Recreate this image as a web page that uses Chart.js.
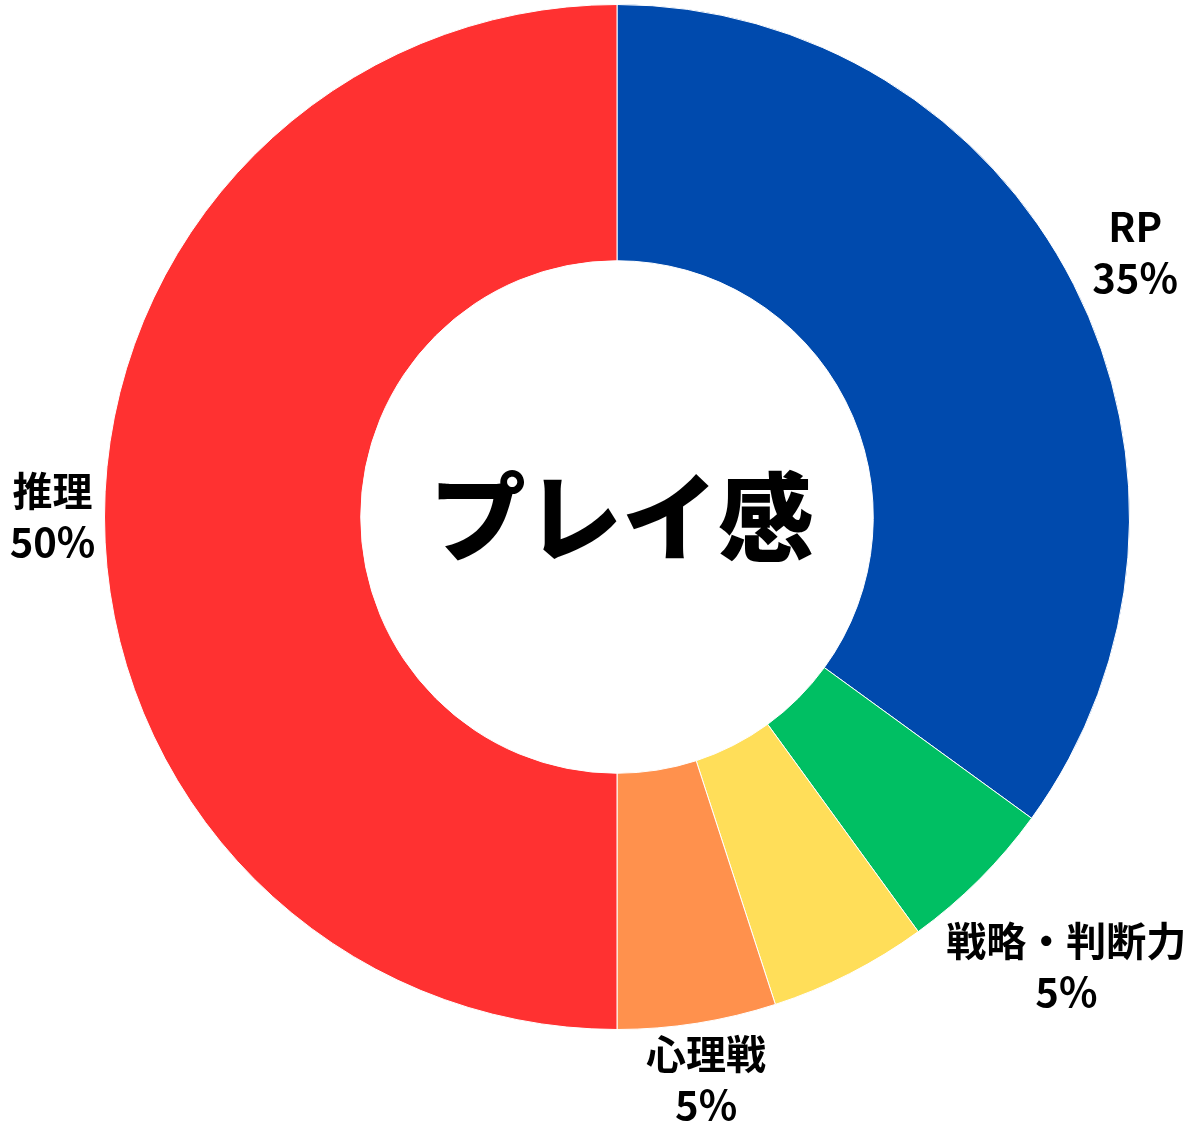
<!DOCTYPE html>
<html>
<head>
<meta charset="utf-8">
<script src="https://cdn.jsdelivr.net/npm/chart.js@4"></script>
<style>
  html, body { margin: 0; padding: 0; background: #fff; }
  #wrap { width: 1199px; height: 1139px; position: relative; }
</style>
</head>
<body>
<div id="wrap"><canvas id="grafico"></canvas></div>
<script>
// datos del gráfico
const categorias = ['RP', '戦略・判断力', '', '心理戦', '推理'];
const valores = [35, 5, 5, 5, 50];
const colores = ['#004AAD', '#00BF63', '#FFDE59', '#FF914D', '#FF3131'];
const mostrarEtiqueta = [true, true, false, true, true];
const distEtiqueta = [69, 123, 60, 57, 52];
const titulo = 'プレイ感';

const fuente = '"Noto Sans CJK JP", "Noto Sans", sans-serif';

const etiquetas = {
  id: 'etiquetas',
  afterDatasetsDraw(chart) {
    const ctx = chart.ctx;
    const meta = chart.getDatasetMeta(0);
    const total = valores.reduce((a, b) => a + b, 0);
    ctx.save();
    ctx.fillStyle = '#000';
    ctx.textAlign = 'center';
    ctx.textBaseline = 'middle';
    meta.data.forEach((arc, i) => {
      if (!mostrarEtiqueta[i]) return;
      const p = arc.getProps(['x', 'y', 'startAngle', 'endAngle', 'outerRadius'], true);
      const ang = (p.startAngle + p.endAngle) / 2;
      const r = p.outerRadius + distEtiqueta[i];
      const x = p.x + Math.cos(ang) * r;
      const y = p.y + Math.sin(ang) * r;
      ctx.font = 'bold 40px ' + fuente;
      ctx.fillText(categorias[i], x, y - 26);
      ctx.fillText(Math.round(valores[i] / total * 100) + '%', x, y + 25);
    });
    // texto central
    const a = meta.data[0];
    ctx.font = '900 96px ' + fuente;
    ctx.fillText(titulo, a.x + 5, a.y);
    ctx.restore();
  }
};

const ctx = document.getElementById('grafico').getContext('2d');
new Chart(ctx, {
  type: 'doughnut',
  data: {
    labels: categorias,
    datasets: [{
      data: valores,
      backgroundColor: colores,
      borderColor: '#ffffff',
      borderWidth: 1
    }]
  },
  options: {
    responsive: true,
    maintainAspectRatio: false,
    animation: false,
    cutout: '50%',
    layout: { padding: { left: 104, right: 69, top: 4, bottom: 109 } },
    plugins: {
      legend: { display: false },
      tooltip: { enabled: false }
    }
  },
  plugins: [etiquetas]
});
</script>
</body>
</html>
